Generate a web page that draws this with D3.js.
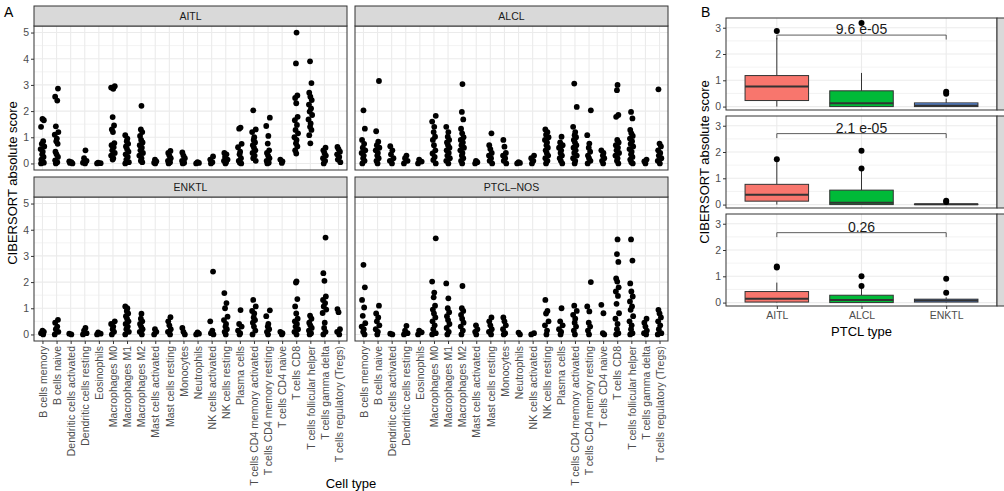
<!DOCTYPE html>
<html>
<head>
<meta charset="utf-8">
<script src="https://cdn.jsdelivr.net/npm/d3@7"></script>
<style>
  body { margin: 0; background: #fff; }
  svg text { font-family: "Liberation Sans", Arial, sans-serif; }
</style>
</head>
<body>
<svg id="fig" width="1004" height="491"></svg>
<script>
// ---- data ----
var cellTypes = ['B cells memory', 'B cells naive', 'Dendritic cells activated', 'Dendritic cells resting',
  'Eosinophils', 'Macrophages M0', 'Macrophages M1', 'Macrophages M2', 'Mast cells activated',
  'Mast cells resting', 'Monocytes', 'Neutrophils', 'NK cells activated', 'NK cells resting',
  'Plasma cells', 'T cells CD4 memory activated', 'T cells CD4 memory resting', 'T cells CD4 naive',
  'T cells CD8', 'T cells follicular helper', 'T cells gamma delta', 'T cells regulatory (Tregs)'];

var facetNames = ['AITL', 'ALCL', 'ENKTL', 'PTCL\u2013NOS'];
var scoreTicks = [0, 1, 2, 3, 4, 5];

var aitlScores = [
  [1.7, 1.65, 1.4, 0.85, 0.75, 0.65, 0.55, 0.45, 0.35, 0.25, 0.15, 0.08, 0.03, 0],
  [2.86, 2.55, 2.4, 1.42, 1.2, 1.1, 0.95, 0.85, 0.75, 0.45, 0.35, 0.25, 0.12, 0.05, 0],
  [0.08, 0.05, 0.02, 0],
  [0.5, 0.2, 0.1, 0.03, 0],
  [0.03, 0.01, 0],
  [2.95, 2.9, 2.85, 1.77, 1.45, 1.3, 1.2, 0.78, 0.7, 0.62, 0.5, 0.4, 0.3, 0.2, 0.15],
  [1.08, 0.95, 0.85, 0.75, 0.65, 0.55, 0.45, 0.35, 0.25, 0.15, 0.05, 0],
  [2.2, 1.3, 1.2, 1.05, 0.9, 0.8, 0.7, 0.6, 0.5, 0.4, 0.3, 0.2, 0.1, 0.05],
  [0.15, 0.08, 0.03, 0],
  [0.48, 0.4, 0.3, 0.2, 0.1, 0.05, 0],
  [0.42, 0.3, 0.2, 0.1, 0.03, 0],
  [0.05, 0.02, 0],
  [0.27, 0.15, 0.05, 0],
  [0.4, 0.35, 0.25, 0.15, 0.1, 0.05, 0],
  [1.37, 1.33, 0.75, 0.62, 0.45, 0.35, 0.2, 0.1, 0.03, 0],
  [2.03, 1.3, 1.2, 1.0, 0.9, 0.8, 0.7, 0.6, 0.5, 0.4, 0.3, 0.2, 0.1],
  [1.75, 1.43, 1.05, 0.76, 0.5, 0.4, 0.3, 0.2, 0.1, 0.03, 0],
  [0.15, 0.08, 0.02],
  [5.0, 3.82, 2.6, 2.5, 2.3, 1.78, 1.65, 1.47, 1.28, 1.15, 1.0, 0.9, 0.77, 0.65, 0.5, 0.38],
  [3.9, 3.07, 2.7, 2.55, 2.42, 2.25, 2.1, 1.98, 1.85, 1.68, 1.53, 1.4, 1.28, 1.08, 0.77],
  [0.6, 0.5, 0.4, 0.3, 0.2, 0.1, 0],
  [0.63, 0.55, 0.45, 0.35, 0.25, 0.15, 0.05]
];

var alclScores = [
  [2.03, 1.33, 0.9, 0.75, 0.6, 0.5, 0.4, 0.3, 0.2, 0.1, 0],
  [3.15, 1.23, 0.83, 0.7, 0.6, 0.5, 0.4, 0.3, 0.2, 0.1, 0],
  [0.66, 0.5, 0.35, 0.2, 0.1, 0],
  [0.3, 0.2, 0.1, 0],
  [0.15, 0.07, 0],
  [1.82, 1.6, 1.4, 1.2, 1.02, 0.9, 0.7, 0.5, 0.38, 0.25, 0.13, 0],
  [1.4, 1.2, 1.02, 0.9, 0.8, 0.7, 0.6, 0.5, 0.4, 0.3, 0.2, 0.1, 0],
  [3.03, 1.97, 1.68, 1.33, 1.15, 1.0, 0.9, 0.8, 0.7, 0.6, 0.5, 0.4, 0.3, 0.2, 0.1, 0],
  [0.1, 0.05, 0],
  [1.15, 0.7, 0.55, 0.4, 0.3, 0.2, 0.1, 0],
  [0.9, 0.64, 0.4, 0.3, 0.2, 0.1, 0],
  [0.05, 0.02, 0],
  [0.3, 0.2, 0.1, 0],
  [1.3, 1.2, 1.1, 1.0, 0.9, 0.8, 0.7, 0.6, 0.5, 0.4, 0.3, 0.2, 0.1, 0],
  [1.02, 0.8, 0.7, 0.6, 0.5, 0.4, 0.3, 0.2, 0.1, 0],
  [3.05, 2.16, 1.4, 1.2, 1.08, 1.0, 0.9, 0.8, 0.7, 0.6, 0.5, 0.4, 0.3, 0.2, 0.1, 0],
  [2.03, 1.08, 0.76, 0.6, 0.45, 0.3, 0.2, 0.1, 0],
  [0.5, 0.4, 0.3, 0.2, 0.1, 0],
  [3.0, 2.8, 1.85, 1.78, 0.9, 0.8, 0.7, 0.6, 0.5, 0.4, 0.3, 0.2, 0.1, 0],
  [1.97, 1.72, 1.28, 1.15, 1.05, 0.95, 0.85, 0.75, 0.65, 0.55, 0.45, 0.35, 0.25, 0.15, 0.05, 0],
  [0.15, 0.08, 0],
  [2.83, 0.76, 0.65, 0.5, 0.4, 0.3, 0.2, 0.1, 0]
];

var enktlScores = [
  [0.15, 0.1, 0.05, 0],
  [0.56, 0.45, 0.3, 0.2, 0.1, 0],
  [0.03, 0],
  [0.25, 0.15, 0.05, 0],
  [0.08, 0.03, 0],
  [0.5, 0.4, 0.3, 0.2, 0.1, 0],
  [1.07, 1.0, 0.9, 0.8, 0.7, 0.6, 0.5, 0.4, 0.3, 0.2, 0.1, 0],
  [0.79, 0.6, 0.5, 0.4, 0.3, 0.2, 0.1, 0],
  [0.2, 0.1, 0],
  [0.66, 0.5, 0.35, 0.2, 0.1, 0],
  [0.25, 0.1, 0],
  [0.08, 0.03, 0],
  [2.4, 0.5, 0.15, 0.05, 0],
  [1.58, 1.2, 1.0, 0.68, 0.55, 0.4, 0.3, 0.2, 0.1, 0],
  [0.93, 0.4, 0.3, 0.15, 0.05, 0],
  [1.32, 1.07, 0.9, 0.8, 0.65, 0.55, 0.45, 0.3, 0.15, 0],
  [0.92, 0.7, 0.4, 0.3, 0.2, 0.1, 0],
  [0.1, 0.05, 0],
  [2.03, 1.98, 1.35, 1.07, 0.8, 0.6, 0.5, 0.4, 0.3, 0.2, 0.1, 0],
  [0.72, 0.6, 0.45, 0.35, 0.25, 0.15, 0.05, 0],
  [3.7, 2.34, 2.05, 1.45, 1.32, 1.2, 1.07, 0.95, 0.82, 0.45, 0.25, 0.1, 0],
  [0.97, 0.85, 0.2, 0.1, 0]
];

var ptclNosScores = [
  [2.66, 1.8, 1.32, 1.03, 0.71, 0.43, 0.3, 0.2, 0.1, 0],
  [1.1, 0.8, 0.65, 0.5, 0.35, 0.2, 0.1, 0],
  [0.03, 0],
  [0.33, 0.15, 0.05, 0],
  [0.15, 0.08, 0],
  [3.67, 2.02, 1.6, 1.42, 1.1, 0.95, 0.8, 0.65, 0.5, 0.35, 0.2, 0.05, 0],
  [1.95, 1.38, 1.0, 0.85, 0.7, 0.55, 0.4, 0.25, 0.1, 0],
  [1.85, 1.0, 0.9, 0.75, 0.6, 0.45, 0.3, 0.15, 0],
  [0.35, 0.2, 0.1, 0],
  [0.65, 0.5, 0.35, 0.2, 0.1, 0],
  [0.65, 0.5, 0.35, 0.2, 0.05, 0],
  [0.07, 0],
  [0.05, 0],
  [1.32, 0.9, 0.8, 0.5, 0.35, 0.15, 0],
  [1.0, 0.5, 0.35, 0.2, 0.1, 0],
  [1.1, 0.9, 0.75, 0.6, 0.45, 0.3, 0.15, 0],
  [2.0, 1.07, 0.88, 0.45, 0.3, 0.15, 0],
  [1.13, 0.81, 0.05, 0],
  [3.63, 3.07, 2.77, 2.14, 2.02, 1.8, 1.64, 1.47, 1.17, 0.81, 0.6, 0.4, 0.2, 0.05, 0],
  [3.63, 2.82, 1.95, 1.64, 1.45, 1.26, 1.07, 0.94, 0.7, 0.5, 0.35, 0.2, 0.05, 0],
  [0.6, 0.45, 0.3, 0.15, 0.05, 0],
  [0.94, 0.8, 0.65, 0.5, 0.35, 0.2, 0.05, 0]
];

var facetScores = [aitlScores, alclScores, enktlScores, ptclNosScores];

// panel B: boxplot stats per row, [lower whisker, Q1, median, Q3, upper whisker]
var ptclGroups = ['AITL', 'ALCL', 'ENKTL'];
var boxColors = ['#F8766D', '#00BA38', '#619CFF'];
var boxTicks = [0, 1, 2, 3];
var boxStats1 = [[0, 0.23, 0.76, 1.18, 2.62], [0, 0, 0.13, 0.6, 1.28], [0, 0, 0.04, 0.14, 0.3]];
var boxOutliers1 = [[2.88], [3.18], [0.56, 0.49]];
var boxStats2 = [[0, 0.13, 0.37, 0.77, 1.62], [0, 0, 0.07, 0.55, 1.3], [0, 0, 0.01, 0.02, 0.05]];
var boxOutliers2 = [[1.72], [1.37, 2.05], [0.15, 0.1]];
var boxStats3 = [[0, 0.02, 0.15, 0.42, 0.76], [0, 0, 0.1, 0.28, 0.55], [0, 0.02, 0.08, 0.13, 0.2]];
var boxOutliers3 = [[1.37, 1.33], [0.63, 1.0], [0.37, 0.91]];
var pValues = ['9.6 e-05', '2.1 e-05', '0.26'];
var pBracketY = [2.72, 2.7, 2.66];

// ---- drawing ----
var svg = d3.select('#fig');
var axisGrey = '#4D4D4D';
var borderGrey = '#333333';
var gridGrey = '#EBEBEB';
var fontStack = 'Liberation Sans, Arial, sans-serif';
var jitterPx = [0, 1.4, -1.4, 0.7, -0.7, 1.8, -1.8, 0.3, -0.3, 1.1, -1.1];

// panel A geometry
var facetLeft = [34, 355];
var facetWidth = 313;
var stripTop = [6, 177];
var stripHeight = 20;
var plotHeight = 144;

var x = d3.scalePoint().domain(cellTypes).range([0, facetWidth]).padding(0.6);

facetNames.forEach(function(name, f) {
  var col = f % 2, row = Math.floor(f / 2);
  var left = facetLeft[col];
  var top = stripTop[row] + stripHeight;
  var g = svg.append('g').attr('transform', 'translate(' + left + ',' + top + ')');
  var y = d3.scaleLinear().domain([-0.25, 5.25]).range([plotHeight, 0]);

  // grid
  d3.range(0.5, 5.5, 1).forEach(function(v) {
    g.append('line').attr('x1', 0).attr('x2', facetWidth).attr('y1', y(v)).attr('y2', y(v))
      .attr('stroke', gridGrey).attr('stroke-width', 0.6);
  });
  scoreTicks.forEach(function(v) {
    g.append('line').attr('x1', 0).attr('x2', facetWidth).attr('y1', y(v)).attr('y2', y(v))
      .attr('stroke', gridGrey).attr('stroke-width', 1.1);
  });
  cellTypes.forEach(function(c) {
    g.append('line').attr('x1', x(c)).attr('x2', x(c)).attr('y1', 0).attr('y2', plotHeight)
      .attr('stroke', gridGrey).attr('stroke-width', 1.1);
  });

  // points
  var pts = [];
  facetScores[f].forEach(function(vals, i) {
    vals.forEach(function(v, j) { pts.push({ c: cellTypes[i], v: v, j: jitterPx[(j + i) % jitterPx.length] }); });
  });
  g.selectAll('circle.pt').data(pts).enter().append('circle')
    .attr('class', 'pt')
    .attr('cx', function(d) { return x(d.c) + d.j; })
    .attr('cy', function(d) { return y(d.v); })
    .attr('r', 2.9)
    .attr('fill', '#000');

  // border
  g.append('rect').attr('width', facetWidth).attr('height', plotHeight)
    .attr('fill', 'none').attr('stroke', borderGrey).attr('stroke-width', 1);

  // strip
  svg.append('rect').attr('x', left).attr('y', stripTop[row]).attr('width', facetWidth).attr('height', stripHeight)
    .attr('fill', '#D9D9D9').attr('stroke', borderGrey).attr('stroke-width', 1);
  svg.append('text').attr('x', left + facetWidth / 2).attr('y', stripTop[row] + stripHeight / 2 + 3.8)
    .attr('text-anchor', 'middle').attr('font-size', 10.5).attr('fill', '#1A1A1A').text(name);

  // y axis on left column only
  if (col === 0) {
    var ya = g.append('g').call(d3.axisLeft(y).tickValues(scoreTicks).tickFormat(d3.format('d')).tickSize(3).tickPadding(2));
    ya.select('.domain').remove();
    ya.selectAll('line').attr('stroke', borderGrey);
    ya.selectAll('text').attr('font-size', 10.5).attr('fill', axisGrey).attr('font-family', fontStack);
  }
  // x axis on bottom row only
  if (row === 1) {
    var xa = g.append('g').attr('transform', 'translate(0,' + plotHeight + ')')
      .call(d3.axisBottom(x).tickSize(3).tickPadding(2));
    xa.select('.domain').remove();
    xa.selectAll('line').attr('stroke', borderGrey);
    xa.selectAll('text')
      .attr('font-size', 10.5).attr('fill', axisGrey).attr('font-family', fontStack)
      .attr('text-anchor', 'end')
      .attr('transform', 'translate(0,2) rotate(-90)')
      .attr('x', -3).attr('y', 0).attr('dy', '0.35em');
  }
});

// panel A titles
svg.append('text').attr('x', 4).attr('y', 17).attr('font-size', 14).attr('fill', '#000').text('A');
svg.append('text').attr('transform', 'translate(17,183) rotate(-90)').attr('text-anchor', 'middle')
  .attr('font-size', 13).attr('fill', '#000').text('CIBERSORT absolute score');
svg.append('text').attr('x', 351).attr('y', 488).attr('text-anchor', 'middle')
  .attr('font-size', 13).attr('fill', '#000').text('Cell type');

// ---- panel B ----
var bLeft = 726, bWidth = 271, bHeight = 92;
var bTops = [18, 116, 214];
var bStats = [boxStats1, boxStats2, boxStats3];
var bOutliers = [boxOutliers1, boxOutliers2, boxOutliers3];
var xb = d3.scalePoint().domain(ptclGroups).range([0, bWidth]).padding(0.6);
var boxW = xb.step() * 0.75;

bTops.forEach(function(top, p) {
  var g = svg.append('g').attr('transform', 'translate(' + bLeft + ',' + top + ')');
  var y = d3.scaleLinear().domain([-0.13, 3.37]).range([bHeight, 0]);

  d3.range(0.5, 3.5, 1).forEach(function(v) {
    g.append('line').attr('x1', 0).attr('x2', bWidth).attr('y1', y(v)).attr('y2', y(v))
      .attr('stroke', gridGrey).attr('stroke-width', 0.6);
  });
  boxTicks.forEach(function(v) {
    g.append('line').attr('x1', 0).attr('x2', bWidth).attr('y1', y(v)).attr('y2', y(v))
      .attr('stroke', gridGrey).attr('stroke-width', 1.1);
  });
  ptclGroups.forEach(function(c) {
    g.append('line').attr('x1', xb(c)).attr('x2', xb(c)).attr('y1', 0).attr('y2', bHeight)
      .attr('stroke', gridGrey).attr('stroke-width', 1.1);
  });

  // boxes
  bStats[p].forEach(function(s, i) {
    var cx = xb(ptclGroups[i]);
    g.append('line').attr('x1', cx).attr('x2', cx).attr('y1', y(s[0])).attr('y2', y(s[1]))
      .attr('stroke', borderGrey).attr('stroke-width', 1);
    g.append('line').attr('x1', cx).attr('x2', cx).attr('y1', y(s[3])).attr('y2', y(s[4]))
      .attr('stroke', borderGrey).attr('stroke-width', 1);
    g.append('rect').attr('x', cx - boxW / 2).attr('width', boxW)
      .attr('y', y(s[3])).attr('height', Math.max(y(s[1]) - y(s[3]), 0.5))
      .attr('fill', boxColors[i]).attr('stroke', borderGrey).attr('stroke-width', 1);
    g.append('line').attr('x1', cx - boxW / 2).attr('x2', cx + boxW / 2).attr('y1', y(s[2])).attr('y2', y(s[2]))
      .attr('stroke', borderGrey).attr('stroke-width', 2);
    bOutliers[p][i].forEach(function(v) {
      g.append('circle').attr('cx', cx).attr('cy', y(v)).attr('r', 3).attr('fill', '#000');
    });
  });

  // comparison bracket
  var by = y(pBracketY[p]);
  var x1 = xb(ptclGroups[0]), x3 = xb(ptclGroups[2]);
  g.append('path')
    .attr('d', 'M' + x1 + ',' + y(pBracketY[p] - 0.17) + 'V' + by + 'H' + x3 + 'V' + y(pBracketY[p] - 0.17))
    .attr('fill', 'none').attr('stroke', '#333').attr('stroke-width', 0.8);
  g.append('text').attr('x', (x1 + x3) / 2).attr('y', by - 1)
    .attr('text-anchor', 'middle').attr('font-size', 14).attr('fill', '#1A1A1A').text(pValues[p]);

  g.append('rect').attr('width', bWidth).attr('height', bHeight)
    .attr('fill', 'none').attr('stroke', borderGrey).attr('stroke-width', 1);

  // right strip (cut at the edge)
  svg.append('rect').attr('x', bLeft + bWidth).attr('y', top).attr('width', 20).attr('height', bHeight)
    .attr('fill', '#D9D9D9').attr('stroke', borderGrey).attr('stroke-width', 1);

  var ya = g.append('g').call(d3.axisLeft(y).tickValues(boxTicks).tickFormat(d3.format('d')).tickSize(3).tickPadding(2));
  ya.select('.domain').remove();
  ya.selectAll('line').attr('stroke', borderGrey);
  ya.selectAll('text').attr('font-size', 10.5).attr('fill', axisGrey).attr('font-family', fontStack);

  if (p === 2) {
    var xa = g.append('g').attr('transform', 'translate(0,' + bHeight + ')')
      .call(d3.axisBottom(xb).tickSize(3).tickPadding(3));
    xa.select('.domain').remove();
    xa.selectAll('line').attr('stroke', borderGrey);
    xa.selectAll('text').attr('font-size', 10.5).attr('fill', axisGrey).attr('font-family', fontStack);
  }
});

svg.append('text').attr('x', 701).attr('y', 17).attr('font-size', 14).attr('fill', '#000').text('B');
svg.append('text').attr('transform', 'translate(709,162) rotate(-90)').attr('text-anchor', 'middle')
  .attr('font-size', 13).attr('fill', '#000').text('CIBERSORT absolute score');
svg.append('text').attr('x', bLeft + bWidth / 2).attr('y', 336).attr('text-anchor', 'middle')
  .attr('font-size', 13).attr('fill', '#000').text('PTCL type');
</script>
</body>
</html>
